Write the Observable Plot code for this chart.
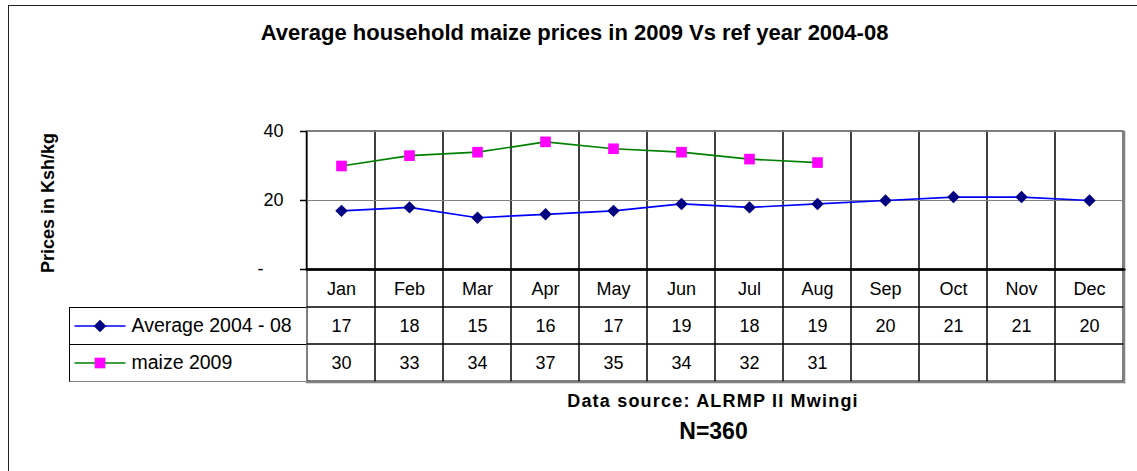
<!DOCTYPE html>
<html>
<head>
<meta charset="utf-8">
<script src="https://cdn.jsdelivr.net/npm/d3@7"></script>
<script src="https://cdn.jsdelivr.net/npm/@observablehq/plot@0.6"></script>
<style>
  body { margin: 0; background: #fff; font-family: "Liberation Sans", Arial, sans-serif; }
  #wrap { position: relative; width: 1137px; height: 471px; overflow: hidden; background: #fff; }
  .abs { position: absolute; white-space: nowrap; color: #000; }
  svg { position: absolute; left: 0; }
</style>
</head>
<body>
<div id="wrap">
  <div class="abs" style="left:8px;top:5px;width:1300px;height:700px;border-left:1.5px solid #222;border-top:1.5px solid #222;"></div>
  <div class="abs" id="title" style="left:574.5px;top:22px;transform:translateX(-50%);font-weight:bold;font-size:22px;line-height:22px;"></div>
  <div class="abs" id="ylabel" style="left:48px;top:203px;transform:translate(-50%,-50%) rotate(-90deg);font-weight:bold;font-size:18px;line-height:18px;"></div>
  <div class="abs" id="source" style="left:713px;top:392px;transform:translateX(-50%);font-weight:bold;font-size:18px;line-height:18px;letter-spacing:1.2px;"></div>
  <div class="abs" id="nnote" style="left:713.5px;top:419.5px;transform:translateX(-50%);font-weight:bold;font-size:23px;line-height:23px;"></div>
  <div class="abs" style="left:69px;top:306.7px;width:237px;height:75.3px;border-left:1px solid #000;border-top:1px solid #000;border-bottom:1px solid #808080;box-sizing:border-box;"></div>
  <div class="abs" style="left:69px;top:344px;width:237px;height:1px;background:#000;"></div>
</div>
<script>
// ---- data ----
const months = ["Jan","Feb","Mar","Apr","May","Jun","Jul","Aug","Sep","Oct","Nov","Dec"];
const avgValues = [17, 18, 15, 16, 17, 19, 18, 19, 20, 21, 21, 20];
const maizeValues = [30, 33, 34, 37, 35, 34, 32, 31, null, null, null, null];
const seriesNames = ["Average 2004 - 08", "maize 2009"];
const yTicks = [0, 20, 40];
const titleText = "Average household maize prices in 2009 Vs ref year 2004-08";
const yLabelText = "Prices in Ksh/kg";
const sourceText = "Data source: ALRMP II Mwingi";
const nText = "N=360";

document.getElementById("title").textContent = titleText;
document.getElementById("ylabel").textContent = yLabelText;
document.getElementById("source").textContent = sourceText;
document.getElementById("nnote").textContent = nText;

const avgData = months.map((m, i) => ({month: m, value: avgValues[i]}));
const maizeData = months.map((m, i) => ({month: m, value: maizeValues[i]})).filter(d => d.value != null);

const FONT = '"Liberation Sans", Arial, sans-serif';
const W = 1137, ML = 306, MR = 13;
const xScale = {type: "band", domain: months, paddingInner: 0, paddingOuter: 0, axis: null};

const chart = Plot.plot({
  width: W, height: 270,
  marginLeft: ML, marginRight: MR, marginTop: 131, marginBottom: 1,
  x: xScale,
  y: {domain: [0, 40], axis: null},
  style: {fontFamily: FONT, fontSize: "18px", color: "#000", background: "none", overflow: "visible"},
  marks: [
    Plot.cell(months, {x: d => d, fill: "none", stroke: "#000", strokeWidth: 1, inset: 0}),
    Plot.ruleY([20, 40], {stroke: "#808080", strokeWidth: 1.2}),
    Plot.frame({anchor: "right", stroke: "#808080", strokeWidth: 1.5}),
    Plot.frame({anchor: "left", stroke: "#000", strokeWidth: 1.5}),
    Plot.ruleY([0], {stroke: "#000", strokeWidth: 2}),
    Plot.axisY({ticks: yTicks, tickFormat: d => d === 0 ? "-\u00a0\u00a0\u00a0\u00a0" : String(d),
      tickSize: 6, tickPadding: 17, label: null, fontSize: 18, stroke: "#000", strokeWidth: 1.5}),
    Plot.line(avgData, {x: "month", y: "value", stroke: "#0000FF", strokeWidth: 1.7}),
    Plot.line(maizeData, {x: "month", y: "value", stroke: "#008000", strokeWidth: 1.7}),
    Plot.dot(avgData, {x: "month", y: "value", symbol: "diamond2", r: 5.6, fill: "#000080", stroke: "none"}),
    Plot.dot(maizeData, {x: "month", y: "value", symbol: "square", r: 6, fill: "#FF00FF", stroke: "none"})
  ]
});
chart.style.top = "0px";

// ---- data table under the chart ----
const rowKeys = ["month", "avg", "maize"];
const tableCells = [];
months.forEach((m, i) => {
  tableCells.push({month: m, row: "month", text: m});
  tableCells.push({month: m, row: "avg", text: String(avgValues[i])});
  tableCells.push({month: m, row: "maize", text: maizeValues[i] == null ? "" : String(maizeValues[i])});
});
const legendAvg = [{row: "avg", name: seriesNames[0]}];
const legendMaize = [{row: "maize", name: seriesNames[1]}];
const lineSymbol = {draw(ctx) { ctx.moveTo(-25.5, 0); ctx.lineTo(25.5, 0); }};
const KEY_DX = -206.5, TEXT_DX = -175;

const table = Plot.plot({
  width: W, height: 113,
  marginLeft: ML, marginRight: MR, marginTop: 0, marginBottom: 0,
  x: xScale,
  y: {type: "band", domain: rowKeys, paddingInner: 0, paddingOuter: 0, axis: null},
  style: {fontFamily: FONT, fontSize: "18px", color: "#000", background: "none", overflow: "visible"},
  marks: [
    Plot.cell(tableCells, {x: "month", y: "row", fill: "none", stroke: "#000", strokeWidth: 1, inset: 0}),
    Plot.frame({anchor: "right", stroke: "#808080", strokeWidth: 1.5}),
    Plot.frame({anchor: "bottom", stroke: "#808080", strokeWidth: 1.5}),
    Plot.frame({anchor: "top", stroke: "#000", strokeWidth: 2}),
    Plot.text(tableCells, {x: "month", y: "row", text: "text", fontSize: 18, fill: "#000"}),
    Plot.dot(legendAvg, {y: "row", frameAnchor: "left", dx: KEY_DX, symbol: lineSymbol, stroke: "#0000FF", strokeWidth: 1.7}),
    Plot.dot(legendAvg, {y: "row", frameAnchor: "left", dx: KEY_DX, symbol: "diamond2", r: 5.6, fill: "#000080", stroke: "none"}),
    Plot.dot(legendMaize, {y: "row", frameAnchor: "left", dx: KEY_DX, symbol: lineSymbol, stroke: "#008000", strokeWidth: 1.7}),
    Plot.dot(legendMaize, {y: "row", frameAnchor: "left", dx: KEY_DX, symbol: "square", r: 6, fill: "#FF00FF", stroke: "none"}),
    Plot.text([...legendAvg, ...legendMaize], {y: "row", text: "name", frameAnchor: "left", textAnchor: "start", dx: TEXT_DX, fontSize: 19.5, fill: "#000"})
  ]
});
table.style.top = "269px";

const wrap = document.getElementById("wrap");
wrap.appendChild(chart);
wrap.appendChild(table);
</script>
</body>
</html>
